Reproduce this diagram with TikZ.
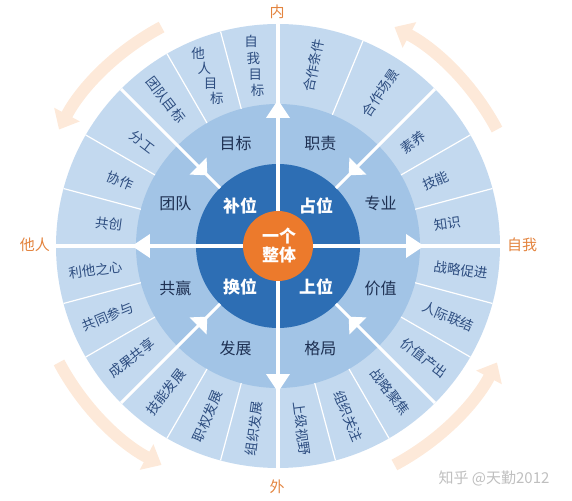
\documentclass[tikz,border=0pt]{standalone}
\usepackage{fontspec}
\setmainfont{Noto Sans CJK SC}
\usepackage{tikz}
\usetikzlibrary{arrows.meta}
\definecolor{ringout}{HTML}{C3D9EF}
\definecolor{ringmid}{HTML}{A2C4E6}
\definecolor{ringin}{HTML}{2D6EB4}
\definecolor{hub}{HTML}{EC7A2C}
\definecolor{peach}{HTML}{FDE9D9}
\definecolor{axistxt}{HTML}{E3843F}
\definecolor{outtxt}{HTML}{2D4D80}
\definecolor{midtxt}{HTML}{1E3052}
\tikzset{
  outlbl/.style={text=outtxt, font=\fontsize{13.5}{13.5}\selectfont, inner sep=0pt},
  midlbl/.style={text=midtxt, font=\fontsize{16}{16}\selectfont, inner sep=0pt},
  inlbl/.style={text=white, font=\fontsize{17}{17}\selectfont\bfseries, inner sep=0pt},
  axlbl/.style={text=axistxt, font=\fontsize{15}{15}\selectfont, inner sep=0pt},
  divline/.style={white, line width=1.2pt},
  spoke/.style={white, line width=3.5pt},
}

\begin{document}
\begin{tikzpicture}[x=1pt,y=1pt]
\useasboundingbox (-278,-254) rectangle (294,246);
\fill[ringout] (0,0) circle (222);
\fill[ringmid] (0,0) circle (142);
\fill[ringin] (0,0) circle (82);
\foreach \a in {28,118,208,298}
  \draw[peach, line width=12pt, -{Triangle[length=17pt,width=28pt]}] (\a:248) arc[start angle=\a, end angle=\a+34, radius=248];
\foreach \a in {105,120,150,165,67.5,30,15,-15,-30,-60,-75,195,210,240,255}
  \draw[divline] (\a:142) -- (\a:222);
\foreach \a in {45,135,225,315} {
  \draw[white, line width=3pt] (\a:82) -- (\a:222);
  \fill[white, rotate=\a] (100,0) -- (113,-12) -- (113,12) -- cycle;
}
\draw[spoke] (0,228) -- (0,-230);
\draw[spoke] (-228,0) -- (228,0);
\foreach \a in {0,90,180,270}
  \fill[white, rotate=\a] (146,0) -- (128,-12) -- (128,12) -- cycle;
\fill[hub] (0,0) circle (35);

\node[inlbl, align=center] (whole) at (1,0) {一个\\[2pt]整体};
\node[inlbl] (bu) at (-38,40) {补位};
\node[inlbl] (zhan) at (38,40) {占位};
\node[inlbl] (huan) at (-38,-41) {换位};
\node[inlbl] (shang) at (38,-41) {上位};

\foreach \a/\t/\n in {112.5/目标/goal, 67.5/职责/duty, 22.5/专业/prof, -22.5/价值/worth,
  -67.5/格局/scope, -112.5/发展/grow, -157.5/共赢/winwin, 157.5/团队/team}
  \node[midlbl] (\n) at (\a:111) {\t};

\foreach \a/\t [count=\i] in {78.75/合作条件, 56.25/合作场景, 37.5/素养, 22.5/技能, 7.5/知识,
  -7.5/战略促进, -22.5/人际联结, -37.5/价值产出, -52.5/战略聚焦, -67.5/组织关注, -82.5/上级视野}
  \node[outlbl, anchor=west, rotate=\a] (r\i) at (\a:157) {\t};
\foreach \a/\t [count=\i] in {127.5/团队目标, 142.5/分工, 157.5/协作, 172.5/共创, 187.5/利他之心,
  202.5/共同参与, 217.5/成果共享, 232.5/技能发展, 247.5/职权发展, 262.5/组织发展}
  \node[outlbl, anchor=east, rotate=\a-180] (l\i) at (\a:157) {\t};
\foreach \c [count=\i] in {自,我,目,标}
  \node[outlbl] (self\i) at (97.5:{206-16.5*(\i-1)}) {\c};
\foreach \c [count=\i] in {他,人,目,标}
  \node[outlbl] (other\i) at (112.5:{209-16.5*(\i-1)}) {\c};

\node[axlbl] (inner) at (-1,234) {内};
\node[axlbl] (outer) at (-1,-241) {外};
\node[axlbl] (others) at (-243,1) {他人};
\node[axlbl] (me) at (244,1) {自我};
\node[text=black!25, font=\fontsize{15}{15}\selectfont, inner sep=0pt] (mark) at (216,-232) {知乎 @天勤2012};
\end{tikzpicture}
\end{document}
